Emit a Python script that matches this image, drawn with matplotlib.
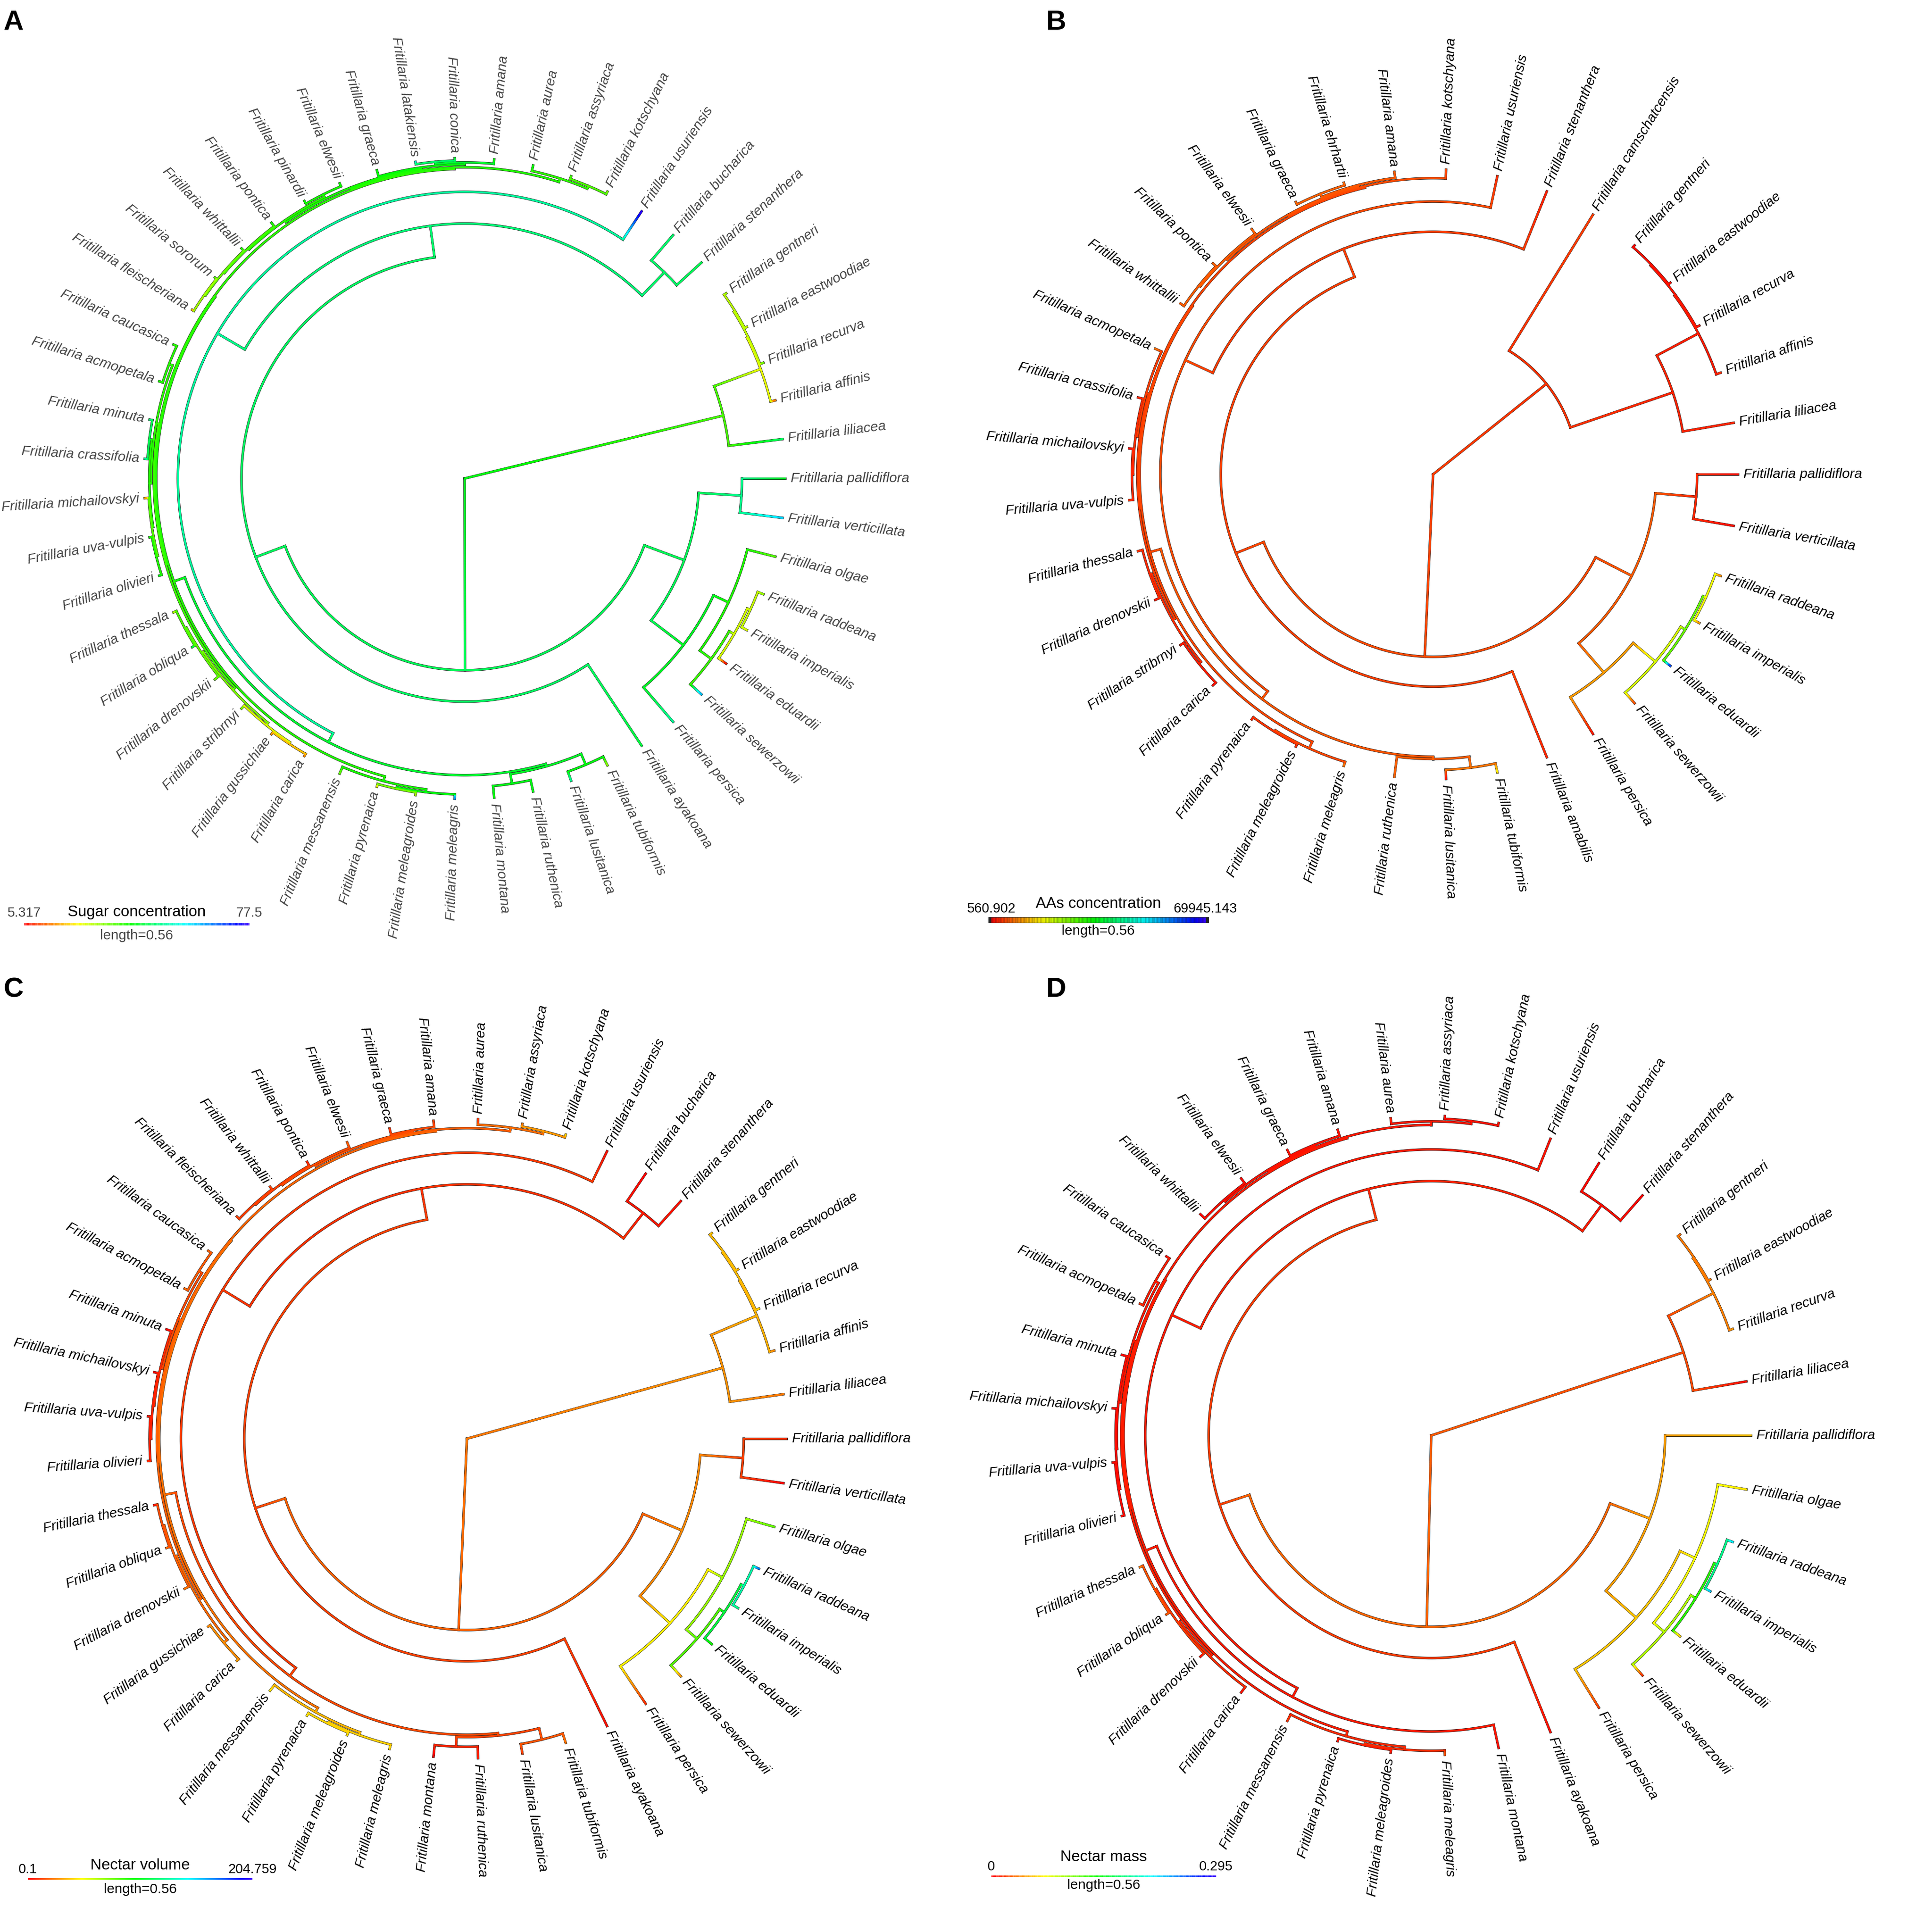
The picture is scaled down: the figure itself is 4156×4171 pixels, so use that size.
import numpy as np
import matplotlib
matplotlib.use("Agg")
import matplotlib.pyplot as plt
from matplotlib.collections import LineCollection
from matplotlib.colors import ListedColormap, Normalize, hsv_to_rgb

W, H, DPI = 4156, 4171, 100

# ------------------------------------------------------------------
# Data
# ------------------------------------------------------------------

# master phylogeny in Newick form, tips written counter-clockwise;
# the number after ':' is the depth of that node from the root
CLADE_LILIACEA = ("(liliacea:0.797,(affinis:0.797,(recurva:0.797,(eastwoodiae:0.797,"
                  "gentneri:0.797):0.791):0.788):0.785):0.662")
CLADE_TOP = ("(((kotschyana:0.797,assyriaca:0.797):0.790,aurea:0.797):0.783,"
             "(((amana:0.797,(conica:0.797,latakiensis:0.797):0.791):0.786,"
             "(ehrhartii:0.797,graeca:0.797):0.790):0.781,"
             "((elwesii:0.797,pinardii:0.797):0.789,(pontica:0.797,(whittallii:0.797,"
             "(sororum:0.797,fleischeriana:0.797):0.792):0.789):0.786):0.782):0.777):0.774")
CLADE_LEFT = ("(((caucasica:0.797,acmopetala:0.797):0.788,((minuta:0.797,crassifolia:0.797):0.790,"
              "(michailovskyi:0.797,(uva-vulpis:0.797,olivieri:0.797):0.791):0.787):0.784):0.779,"
              "(((thessala:0.797,obliqua:0.797):0.789,drenovskii:0.797):0.785,"
              "(stribrnyi:0.797,(gussichiae:0.797,carica:0.797):0.791):0.787):0.780):0.773")
CLADE_MELEAGRIS = ("(messanensis:0.797,((pyrenaica:0.797,meleagroides:0.797):0.790,"
                   "meleagris:0.797):0.786):0.779")
CLADE_MONTANA = ("((montana:0.797,ruthenica:0.797):0.768,"
                 "(lusitanica:0.797,tubiformis:0.797):0.773):0.744")
CLADE_PETILIUM = ("((persica:0.797,((sewerzowii:0.797,(eduardii:0.797,(imperialis:0.797,"
                  "raddeana:0.797):0.782):0.774):0.760,olgae:0.797):0.725):0.684,"
                  "(verticillata:0.797,pallidiflora:0.797):0.690):0.583")

MASTER_TREE = (
    "((" + CLADE_LILIACEA + ",camschatcensis:0.797):0.379,"
    "(((" + "(stenanthera:0.797,bucharica:0.797):0.714,"
    "(usuriensis:0.797,((("
    + CLADE_TOP + "," + CLADE_LEFT + "):0.770," + CLADE_MELEAGRIS + "):0.767,"
    + CLADE_MONTANA + "):0.738):0.713):0.634,"
    "(ayakoana:0.797,amabilis:0.797):0.790):0.555,"
    + CLADE_PETILIUM + "):0.477):0;"
)

TIPS_A = ["liliacea", "affinis", "recurva", "eastwoodiae", "gentneri", "stenanthera",
          "bucharica", "usuriensis", "kotschyana", "assyriaca", "aurea", "amana", "conica",
          "latakiensis", "graeca", "elwesii", "pinardii", "pontica", "whittallii", "sororum",
          "fleischeriana", "caucasica", "acmopetala", "minuta", "crassifolia", "michailovskyi",
          "uva-vulpis", "olivieri", "thessala", "obliqua", "drenovskii", "stribrnyi",
          "gussichiae", "carica", "messanensis", "pyrenaica", "meleagroides", "meleagris",
          "montana", "ruthenica", "lusitanica", "tubiformis", "ayakoana", "persica",
          "sewerzowii", "eduardii", "imperialis", "raddeana", "olgae", "verticillata",
          "pallidiflora"]
SUGAR = [46, 12, 33, 26, 30, 45, 47, 77.5, 31, 36, 40, 40, 42, 56, 40, 39, 39, 39, 38, 37,
         14, 37, 38, 48, 52, 13, 39, 42, 27, 46, 33, 32, 14, 13, 33, 22, 27, 68, 40, 41,
         50, 30, 44, 50, 62, 5.317, 25, 30, 34, 60, 42]

TIPS_B = ["liliacea", "affinis", "recurva", "eastwoodiae", "gentneri", "camschatcensis",
          "stenanthera", "usuriensis", "kotschyana", "amana", "ehrhartii", "graeca", "elwesii",
          "pontica", "whittallii", "acmopetala", "crassifolia", "michailovskyi", "uva-vulpis",
          "thessala", "drenovskii", "stribrnyi", "carica", "pyrenaica", "meleagroides",
          "meleagris", "ruthenica", "lusitanica", "tubiformis", "amabilis", "persica",
          "sewerzowii", "eduardii", "imperialis", "raddeana", "verticillata", "pallidiflora"]
AAS = [3000, 3500, 2000, 1500, 800, 4500, 2500, 3500, 5000, 6500, 7000, 7000, 7000, 6800,
       6500, 8000, 2500, 560.902, 4000, 4000, 2000, 2000, 1200, 2500, 3000, 8500, 7000, 1500,
       16000, 3000, 2000, 5000, 65000, 10000, 9000, 1500, 1200]

TIPS_C = ["liliacea", "affinis", "recurva", "eastwoodiae", "gentneri", "stenanthera",
          "bucharica", "usuriensis", "kotschyana", "assyriaca", "aurea", "amana", "graeca",
          "elwesii", "pontica", "whittallii", "fleischeriana", "caucasica", "acmopetala",
          "minuta", "michailovskyi", "uva-vulpis", "olivieri", "thessala", "obliqua",
          "drenovskii", "gussichiae", "carica", "messanensis", "pyrenaica", "meleagroides",
          "meleagris", "montana", "ruthenica", "lusitanica", "tubiformis", "ayakoana",
          "persica", "sewerzowii", "eduardii", "imperialis", "raddeana", "olgae",
          "verticillata", "pallidiflora"]
NECTAR_VOLUME = [23, 26, 41, 35, 38, 3, 0.5, 3, 44, 23, 9, 12, 9, 18, 6, 12, 12, 18, 20,
                 0.1, 0.5, 3, 9, 3, 20, 23, 26, 32, 44, 44, 41, 41, 0.5, 6, 12, 23, 3, 9,
                 26, 94, 123, 176, 79, 1, 9]

TIPS_D = ["liliacea", "recurva", "eastwoodiae", "gentneri", "stenanthera", "bucharica",
          "usuriensis", "kotschyana", "assyriaca", "aurea", "amana", "graeca", "elwesii",
          "whittallii", "caucasica", "acmopetala", "minuta", "michailovskyi", "uva-vulpis",
          "olivieri", "thessala", "obliqua", "drenovskii", "carica", "messanensis",
          "pyrenaica", "meleagroides", "meleagris", "montana", "ayakoana", "persica",
          "sewerzowii", "eduardii", "imperialis", "raddeana", "olgae", "pallidiflora"]
NECTAR_MASS = [0.004, 0.042, 0.034, 0.029, 0.001, 0.0, 0.004, 0.004, 0.004, 0.008, 0.004,
               0.004, 0.002, 0.001, 0.004, 0.013, 0.001, 0.0, 0.001, 0.004, 0.034, 0.025,
               0.004, 0.004, 0.013, 0.004, 0.004, 0.025, 0.004, 0.004, 0.017, 0.013, 0.051,
               0.232, 0.219, 0.063, 0.055]

RANGE_A = (5.317, 77.5)
RANGE_B = (560.902, 69945.143)
RANGE_C = (0.1, 204.759)
RANGE_D = (0.0, 0.295)
BAR_LENGTH = 0.56

# layout (pixel positions measured from the top-left corner)
PANELS = [
    dict(letter="A", tips=TIPS_A, values=SUGAR, lims=RANGE_A, lim_text=("5.317", "77.5"),
         title="Sugar concentration", center=(1003, 1033), scale=868, label_color="#454545",
         num_color="#454545", bar=(52, 1995, 5, False), title_y=1969, num_y=1971, len_y=2020,
         letter_pos=(8, 48)),
    dict(letter="B", tips=TIPS_B, values=AAS, lims=RANGE_B, lim_text=("560.902", "69945.143"),
         title="AAs concentration", center=(3094, 1024), scale=826, label_color="black",
         num_color="black", bar=(2140, 1986, 11, True), title_y=1951, num_y=1962, len_y=2010,
         letter_pos=(2259, 48)),
    dict(letter="C", tips=TIPS_C, values=NECTAR_VOLUME, lims=RANGE_C, lim_text=("0.1", "204.759"),
         title="Nectar volume", center=(1008, 3106), scale=866, label_color="black",
         num_color="black", bar=(60, 4056, 4, False), title_y=4028, num_y=4036, len_y=4079,
         letter_pos=(8, 2137)),
    dict(letter="D", tips=TIPS_D, values=NECTAR_MASS, lims=RANGE_D, lim_text=("0", "0.295"),
         title="Nectar mass", center=(3090, 3099), scale=866, label_color="black",
         num_color="black", bar=(2140, 4050, 3, False), title_y=4010, num_y=4030, len_y=4070,
         letter_pos=(2259, 2137)),
]

FONT = "Liberation Sans"
hues = np.linspace(0, 0.7, 1001)
CMAP = ListedColormap(hsv_to_rgb(np.column_stack([hues, np.ones_like(hues), np.ones_like(hues)])))


# ------------------------------------------------------------------
# Tree helpers
# ------------------------------------------------------------------

class Node:
    def __init__(self, name=None, depth=0.0):
        self.name = name
        self.depth = depth
        self.children = []
        self.parent = None


def parse_newick(text):
    s = text.strip().rstrip(";")
    pos = 0

    def parse():
        nonlocal pos
        node = Node()
        if s[pos] == "(":
            pos += 1
            while True:
                node.children.append(parse())
                if s[pos] == ",":
                    pos += 1
                    continue
                pos += 1
                break
        start = pos
        while pos < len(s) and s[pos] not in ",():":
            pos += 1
        node.name = s[start:pos] or None
        if pos < len(s) and s[pos] == ":":
            pos += 1
            start = pos
            while pos < len(s) and s[pos] not in ",()":
                pos += 1
            node.depth = float(s[start:pos])
        return node

    return parse()


def prune(node, keep):
    if not node.children:
        return Node(node.name, node.depth) if node.name in keep else None
    kids = [k for k in (prune(c, keep) for c in node.children) if k is not None]
    if not kids:
        return None
    if len(kids) == 1:
        return kids[0]
    new = Node(None, node.depth)
    new.children = kids
    return new


def preorder(node):
    out = [node]
    for c in node.children:
        out.extend(preorder(c))
    return out


def layout(root):
    nodes = preorder(root)
    for nd in nodes:
        for c in nd.children:
            c.parent = nd
            c.bl = max(c.depth - nd.depth, 1e-4)
    tips = [nd for nd in nodes if not nd.children]
    n = len(tips)
    for i, t in enumerate(tips):
        t.angle = 2 * np.pi * (i + 1) / n
    for nd in reversed(nodes):
        if nd.children:
            nd.angle = np.mean([c.angle for c in nd.children])
    return nodes, tips


def ancestral_states(nodes, tip_values):
    # Brownian-motion ML estimates (two-pass), as used by contMap
    for nd in reversed(nodes):
        if not nd.children:
            nd.m, nd.v = tip_values[nd.name], 0.0
        else:
            w = np.array([1.0 / (c.v + c.bl) for c in nd.children])
            m = np.array([c.m for c in nd.children])
            nd.m = float(np.sum(w * m) / np.sum(w))
            nd.v = 1.0 / np.sum(w)
    root = nodes[0]
    root.val = root.m
    for nd in nodes[1:]:
        p = nd.parent
        ws = [1.0 / (s.v + s.bl) for s in p.children if s is not nd]
        ms = [s.m for s in p.children if s is not nd]
        if p.parent is not None:
            ws.append(1.0 / (p.uv + p.bl))
            ms.append(p.um)
        ws = np.array(ws)
        nd.um = float(np.dot(ws, ms) / ws.sum())
        nd.uv = 1.0 / ws.sum()
        if nd.children:
            a = 1.0 / nd.v
            b = 1.0 / (nd.uv + nd.bl)
            nd.val = (nd.m * a + nd.um * b) / (a + b)
        else:
            nd.val = nd.m


# ------------------------------------------------------------------
# Drawing
# ------------------------------------------------------------------

def draw_panel(fig, master, cfg):
    cx, cy = cfg["center"]
    s = cfg["scale"]
    ax = fig.add_axes([0, 0, 1, 1])
    ax.set_xlim(-cx / s, (W - cx) / s)
    ax.set_ylim((cy - H) / s, cy / s)
    ax.axis("off")
    ax.patch.set_alpha(0)

    root = prune(master, set(cfg["tips"]))
    nodes, tips = layout(root)
    ancestral_states(nodes, dict(zip(cfg["tips"], cfg["values"])))

    outline, segs, vals = [], [], []
    for nd in nodes[1:]:
        p = nd.parent
        a = nd.angle
        ca, sa = np.cos(a), np.sin(a)
        outline.append([(p.depth * ca, p.depth * sa), (nd.depth * ca, nd.depth * sa)])
        k = max(2, int(np.ceil((nd.depth - p.depth) / 0.004)))
        rs = np.linspace(p.depth, nd.depth, k + 1)
        vs = np.linspace(p.val, nd.val, k + 1)
        for j in range(k):
            segs.append([(rs[j] * ca, rs[j] * sa), (rs[j + 1] * ca, rs[j + 1] * sa)])
            vals.append(0.5 * (vs[j] + vs[j + 1]))
    for nd in nodes:
        if not nd.children:
            continue
        angs = [c.angle for c in nd.children]
        th = np.linspace(min(angs), max(angs), 200)
        arc = np.column_stack([nd.depth * np.cos(th), nd.depth * np.sin(th)])
        outline.append(arc)
        segs.append(arc)
        vals.append(nd.val)

    norm = Normalize(*cfg["lims"])
    ax.add_collection(LineCollection(outline, colors="#1a1a1a", linewidths=3.9,
                                     capstyle="projecting", joinstyle="miter"))
    lc = LineCollection(segs, cmap=CMAP, norm=norm, linewidths=2.85,
                        capstyle="projecting", joinstyle="miter")
    lc.set_array(np.array(vals))
    ax.add_collection(lc)

    # tip labels
    off = 12 / s
    for t in tips:
        deg = np.degrees(t.angle) % 360
        r = t.depth + off
        x, y = r * np.cos(t.angle), r * np.sin(t.angle)
        if 90 < deg < 270:
            rot, ha = deg - 180, "right"
        else:
            rot, ha = deg, "left"
        ax.text(x, y, "Fritillaria " + t.name, rotation=rot, rotation_mode="anchor",
                ha=ha, va="center", fontsize=21.6, fontstyle="italic", family=FONT,
                color=cfg["label_color"])

    # colour bar legend
    def to_data(px, py):
        return (px - cx) / s, (cy - py) / s

    bx, by, blw, boxed = cfg["bar"]
    x0, y0 = to_data(bx, by)
    xs = np.linspace(x0, x0 + BAR_LENGTH, 301)
    bar_segs = [[(xs[i], y0), (xs[i + 1], y0)] for i in range(300)]
    if boxed:
        ax.plot([x0, x0 + BAR_LENGTH], [y0, y0], color="#222222",
                lw=(blw + 2) * 72 / DPI, solid_capstyle="projecting")
    bar = LineCollection(bar_segs, cmap=CMAP, norm=Normalize(0, 1),
                         linewidths=blw * 72 / DPI, capstyle="butt")
    bar.set_array(np.linspace(0, 1, 300))
    ax.add_collection(bar)

    _, ty = to_data(0, cfg["title_y"])
    _, ny = to_data(0, cfg["num_y"])
    _, ly = to_data(0, cfg["len_y"])
    xm = x0 + BAR_LENGTH / 2
    ax.text(xm, ty, cfg["title"], ha="center", va="center", fontsize=24, family=FONT,
            color="black")
    ax.text(x0, ny, cfg["lim_text"][0], ha="center", va="center", fontsize=21,
            family=FONT, color=cfg["num_color"])
    ax.text(x0 + BAR_LENGTH, ny, cfg["lim_text"][1], ha="center", va="center", fontsize=21,
            family=FONT, color=cfg["num_color"])
    ax.text(xm, ly, "length=%.2f" % BAR_LENGTH, ha="center", va="center", fontsize=21.6,
            family=FONT, color=cfg["num_color"])

    lx, lyy = cfg["letter_pos"]
    fig.text(lx / W, 1 - lyy / H, cfg["letter"], ha="left", va="center", fontsize=43,
             fontweight="bold", family=FONT, color="black")


def main():
    master = parse_newick(MASTER_TREE)
    fig = plt.figure(figsize=(W / DPI, H / DPI), dpi=DPI, facecolor="white")
    for cfg in PANELS:
        draw_panel(fig, master, cfg)
    fig.savefig("out.png", dpi=DPI, facecolor="white")
    plt.close(fig)


if __name__ == "__main__":
    main()
